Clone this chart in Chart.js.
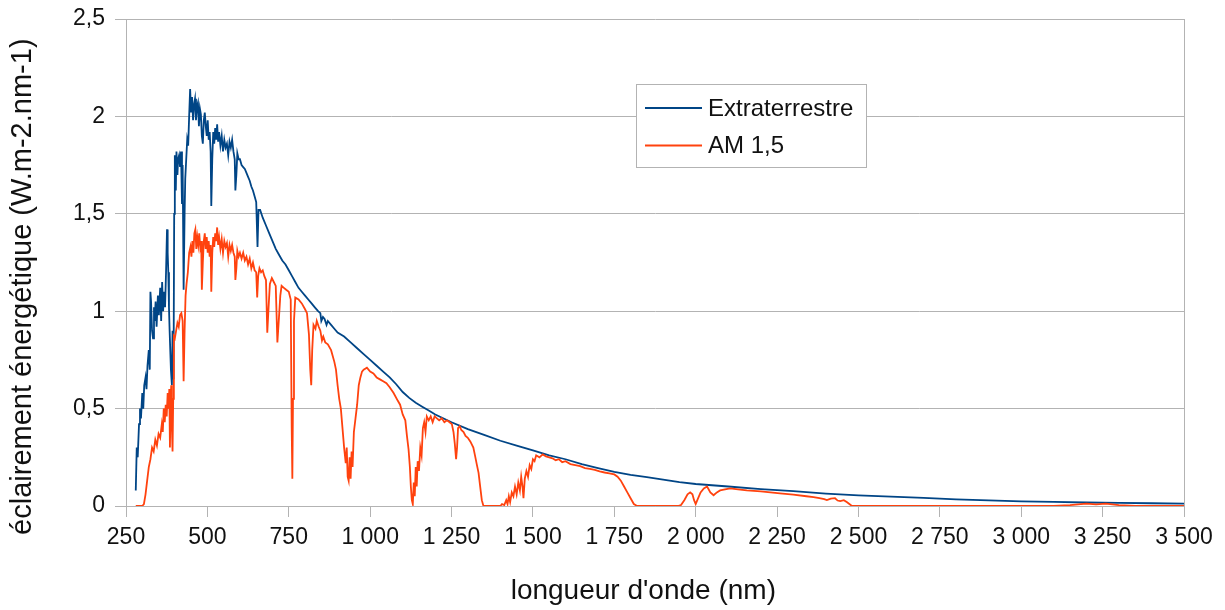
<!DOCTYPE html>
<html><head><meta charset="utf-8">
<script src="https://cdn.jsdelivr.net/npm/chart.js@4/dist/chart.umd.min.js"></script>
<style>html,body{margin:0;padding:0;background:#fff}#wrap{width:1225px;height:610px}</style>
</head><body><div id="wrap"><canvas id="c" width="1225" height="610"></canvas></div>
<script>
const seriesLabels = ['Extraterrestre', 'AM 1,5'];
const xTitle = "longueur d'onde (nm)";
const yTitle = 'éclairement énergétique (W.m-2.nm-1)';
const xRange = [250, 3500, 250];
const yRange = [0, 2.5, 0.5];

// [wavelength nm, irradiance]
const extraterrestre = [
[280,0.08],[283,0.30],[286,0.25],[290,0.42],[293,0.50],[296,0.45],[300,0.58],[303,0.50],[306,0.62],[310,0.66],
[313,0.60],[316,0.72],[320,0.80],[323,0.70],[325,1.10],[327,1.05],[330,0.90],[333,0.86],[336,1.02],[338,0.95],
[341,1.05],[344,0.92],[348,1.08],[351,0.98],[355,1.12],[358,0.95],[361,1.15],[364,1.00],[367,1.10],[370,1.02],
[373,1.20],[376,1.42],[378,1.30],[380,1.20],[382,1.02],[384,0.90],[388,0.70],[391,0.62],[393,0.90],[396,0.65],
[398,1.50],[400,1.80],[403,1.62],[405,1.82],[408,1.70],[410,1.78],[413,1.80],[416,1.74],[419,1.82],[422,1.55],
[424,1.75],[427,1.11],[430,1.50],[432,1.68],[435,1.78],[438,1.88],[441,1.85],[444,2.00],[447,2.14],[450,2.02],
[453,2.10],[456,1.98],[459,2.06],[462,2.09],[465,1.98],[468,2.05],[471,2.07],[474,1.95],[477,2.04],[480,2.01],
[483,1.90],[486,1.86],[489,1.98],[492,2.02],[495,1.95],[498,1.90],[501,1.98],[504,1.88],[507,1.92],[510,1.82],
[512,1.54],[515,1.78],[518,1.92],[521,1.86],[524,1.94],[527,1.88],[530,1.96],[533,1.87],[536,1.92],[540,1.85],
[544,1.90],[548,1.82],[552,1.88],[556,1.84],[560,1.86],[564,1.80],[568,1.87],[572,1.84],[576,1.88],[580,1.82],
[584,1.78],[586,1.62],[589,1.70],[592,1.81],[596,1.78],[600,1.78],[605,1.75],[610,1.74],[615,1.73],[620,1.71],
[625,1.69],[630,1.67],[635,1.64],[640,1.62],[645,1.59],[650,1.56],[654,1.33],[657,1.52],[662,1.52],[670,1.48],
[680,1.44],[690,1.40],[700,1.36],[710,1.32],[720,1.29],[730,1.26],[740,1.24],[750,1.21],[760,1.18],[770,1.15],
[780,1.12],[790,1.10],[800,1.08],[810,1.06],[820,1.04],[830,1.02],[840,1.00],[847,0.99],[850,0.95],[855,0.97],
[860,0.96],[866,0.93],[870,0.95],[880,0.93],[890,0.91],[900,0.89],[920,0.87],[940,0.84],[960,0.81],[980,0.78],
[1000,0.75],[1020,0.72],[1040,0.69],[1060,0.66],[1080,0.625],[1100,0.585],[1120,0.555],[1140,0.53],[1160,0.51],[1180,0.49],
[1200,0.47],[1250,0.43],[1300,0.395],[1350,0.365],[1400,0.335],[1450,0.31],[1500,0.285],[1550,0.26],[1600,0.24],[1650,0.215],
[1700,0.195],[1750,0.175],[1800,0.16],[1850,0.148],[1900,0.135],[1950,0.123],[2000,0.113],[2100,0.10],[2200,0.087],[2300,0.076],
[2400,0.064],[2500,0.055],[2600,0.048],[2700,0.042],[2750,0.038],[2800,0.034],[2900,0.029],[3000,0.024],[3100,0.021],[3200,0.018],
[3300,0.016],[3400,0.014],[3500,0.012]
];

const am15 = [
[280,0],[300,0],[305,0.01],[310,0.06],[315,0.13],[320,0.20],[325,0.24],[330,0.30],[335,0.28],[340,0.34],
[345,0.31],[350,0.37],[355,0.35],[360,0.42],[363,0.38],[366,0.50],[369,0.43],[372,0.52],[375,0.46],[378,0.58],
[381,0.50],[383,0.60],[385,0.30],[387,0.55],[389,0.62],[391,0.40],[393,0.28],[395,0.55],[397,0.87],[400,0.86],
[404,0.90],[408,0.94],[412,0.92],[416,0.98],[420,0.99],[424,0.95],[427,0.64],[430,0.90],[433,1.08],[436,1.14],
[440,1.20],[444,1.30],[448,1.33],[451,1.28],[454,1.36],[457,1.30],[460,1.40],[463,1.42],[466,1.32],[469,1.38],
[472,1.34],[475,1.40],[478,1.33],[481,1.36],[483,1.11],[486,1.25],[489,1.36],[492,1.40],[495,1.32],[498,1.38],
[501,1.30],[504,1.36],[507,1.28],[510,1.34],[512,1.10],[515,1.30],[518,1.38],[521,1.33],[524,1.40],[527,1.36],
[530,1.43],[533,1.34],[536,1.38],[540,1.32],[544,1.37],[548,1.30],[552,1.36],[556,1.33],[560,1.35],[564,1.28],
[568,1.34],[572,1.31],[576,1.34],[580,1.30],[584,1.28],[586,1.16],[589,1.22],[592,1.31],[596,1.28],[600,1.30],
[605,1.27],[610,1.30],[615,1.26],[620,1.28],[625,1.24],[630,1.27],[635,1.22],[640,1.25],[645,1.21],[650,1.20],
[653,1.07],[656,1.18],[660,1.22],[665,1.20],[670,1.21],[675,1.18],[680,1.16],[684,0.89],[688,1.02],[692,1.14],
[698,1.17],[704,1.15],[710,1.13],[715,0.84],[720,0.97],[724,1.08],[728,1.13],[735,1.12],[742,1.11],[750,1.10],
[756,1.06],[759,0.40],[761,0.14],[763,0.55],[766,0.95],[770,1.07],[780,1.06],[790,1.04],[800,1.01],[806,0.99],
[812,0.88],[816,0.70],[819,0.62],[822,0.80],[826,0.93],[832,0.91],[836,0.95],[842,0.92],[847,0.90],[852,0.85],
[856,0.87],[862,0.84],[870,0.83],[880,0.80],[890,0.74],[895,0.70],[900,0.62],[905,0.55],[910,0.50],[915,0.40],
[920,0.30],[925,0.22],[928,0.30],[931,0.15],[934,0.13],[937,0.25],[940,0.14],[943,0.28],[946,0.20],[950,0.38],
[955,0.45],[960,0.52],[965,0.62],[970,0.66],[975,0.69],[980,0.70],[990,0.71],[1000,0.69],[1010,0.68],[1020,0.66],
[1030,0.65],[1040,0.64],[1050,0.63],[1060,0.61],[1072,0.58],[1085,0.54],[1092,0.52],[1100,0.47],[1108,0.44],[1113,0.36],
[1118,0.29],[1122,0.20],[1125,0.10],[1128,0.03],[1131,0.01],[1134,0.12],[1137,0.05],[1140,0.20],[1143,0.10],[1146,0.23],
[1150,0.18],[1154,0.30],[1158,0.26],[1162,0.40],[1166,0.43],[1170,0.38],[1174,0.46],[1180,0.44],[1186,0.46],[1192,0.43],
[1198,0.46],[1205,0.45],[1212,0.44],[1220,0.45],[1228,0.43],[1236,0.44],[1244,0.43],[1251,0.42],[1256,0.38],[1260,0.32],
[1264,0.24],[1267,0.30],[1270,0.40],[1275,0.41],[1280,0.39],[1287,0.38],[1293,0.36],[1300,0.35],[1308,0.33],[1317,0.30],
[1322,0.26],[1328,0.21],[1333,0.17],[1338,0.10],[1343,0.03],[1348,0],[1400,0],[1405,0.01],[1412,0.005],[1418,0.03],
[1422,0.01],[1426,0.05],[1430,0.02],[1435,0.07],[1440,0.05],[1445,0.10],[1450,0.06],[1455,0.12],[1460,0.08],[1464,0.15],
[1468,0.10],[1471,0.04],[1475,0.14],[1480,0.18],[1485,0.15],[1490,0.21],[1495,0.19],[1500,0.24],[1505,0.23],[1510,0.26],
[1520,0.25],[1530,0.265],[1540,0.255],[1550,0.25],[1560,0.245],[1570,0.235],[1580,0.24],[1590,0.225],[1600,0.23],[1615,0.215],
[1630,0.21],[1645,0.205],[1660,0.195],[1675,0.19],[1690,0.185],[1705,0.178],[1720,0.172],[1735,0.168],[1750,0.162],[1760,0.15],
[1770,0.13],[1780,0.10],[1790,0.07],[1800,0.04],[1810,0.01],[1820,0],[1945,0],[1955,0.005],[1965,0.03],[1975,0.06],
[1983,0.07],[1990,0.06],[1995,0.03],[2000,0.01],[2005,0.03],[2015,0.07],[2025,0.09],[2035,0.10],[2045,0.07],[2055,0.055],
[2065,0.07],[2075,0.08],[2090,0.085],[2106,0.09],[2130,0.085],[2157,0.08],[2200,0.075],[2259,0.065],[2300,0.058],[2340,0.05],
[2362,0.046],[2380,0.04],[2395,0.035],[2403,0.03],[2415,0.038],[2428,0.04],[2436,0.028],[2444,0.025],[2455,0.03],[2464,0.02],
[2472,0.01],[2480,0],[3100,0],[3150,0.005],[3200,0.012],[3230,0.008],[3260,0.012],[3300,0.005],[3350,0],[3500,0]
];

const FONT = 'Liberation Sans, Arial, sans-serif';
const GRID = '#b3b3b3';
const TEXT = '#111111';

function toPoints(list) { return list.map(p => ({x: p[0], y: p[1]})); }

const legendBox = {
  id: 'legendBox',
  afterDraw(chart) {
    const ctx = chart.ctx;
    const bx = 636, by = 84, bw = 230, bh = 83;
    ctx.save();
    ctx.fillStyle = '#ffffff';
    ctx.fillRect(bx, by, bw, bh);
    ctx.strokeStyle = GRID;
    ctx.lineWidth = 1;
    ctx.strokeRect(bx + 0.5, by + 0.5, bw, bh);
    ctx.font = '24px ' + FONT;
    ctx.textBaseline = 'middle';
    ctx.textAlign = 'left';
    chart.data.datasets.forEach((ds, i) => {
      const ly = by + 24 + i * 37.5;
      ctx.strokeStyle = ds.borderColor;
      ctx.lineWidth = 2;
      ctx.beginPath();
      ctx.moveTo(bx + 9, ly);
      ctx.lineTo(bx + 66, ly);
      ctx.stroke();
      ctx.fillStyle = TEXT;
      ctx.fillText(ds.label, bx + 72, ly + 1);
    });
    ctx.restore();
  }
};

// Title texts are centred on the plot area; pad with no-break spaces to match the reference's offset centre
const NBSP = '\u00a0';

new Chart(document.getElementById('c'), {
  type: 'line',
  data: {
    datasets: [
      { label: seriesLabels[0], data: toPoints(extraterrestre), borderColor: '#004586', borderWidth: 1.8, pointRadius: 0, tension: 0, order: 1 },
      { label: seriesLabels[1], data: toPoints(am15), borderColor: '#ff420e', borderWidth: 1.8, pointRadius: 0, tension: 0, order: 0 }
    ]
  },
  options: {
    responsive: false,
    animation: false,
    devicePixelRatio: 1,
    layout: { padding: { left: 0, right: 41, top: 19, bottom: 0 } },
    plugins: { legend: { display: false }, tooltip: { enabled: false } },
    scales: {
      x: {
        type: 'linear',
        min: xRange[0], max: xRange[1],
        afterFit(s) { s.height = 104; },
        afterBuildTicks(s) {
          const t = [];
          for (let v = xRange[0]; v <= xRange[1]; v += xRange[2]) t.push({value: v});
          s.ticks = t;
        },
        ticks: {
          autoSkip: false, maxRotation: 0, padding: 7, color: TEXT,
          font: { family: FONT, size: 23 },
          callback: v => v >= 1000 ? Math.floor(v / 1000) + ' ' + String(v % 1000).padStart(3, '0') : String(v)
        },
        grid: {
          drawOnChartArea: true,
          color: c => (c.tick && c.tick.value === xRange[1]) ? GRID : 'rgba(0,0,0,0)',
          tickColor: GRID, tickLength: 11, lineWidth: 1
        },
        border: { display: true, color: GRID },
        title: { display: true, text: xTitle + NBSP.repeat(3), color: TEXT, font: { family: FONT, size: 28, lineHeight: 1 }, padding: { top: 0, bottom: 5 } }
      },
      y: {
        min: yRange[0], max: yRange[1],
        afterFit(s) { s.width = 126; },
        ticks: {
          stepSize: yRange[2], padding: 10, color: TEXT,
          font: { family: FONT, size: 23, lineHeight: 0.6 },
          callback: v => String(v).replace('.', ',')
        },
        grid: { color: GRID, tickColor: GRID, tickLength: 11, lineWidth: 1 },
        border: { display: true, color: GRID },
        title: { display: true, text: yTitle + NBSP.repeat(6), color: TEXT, font: { family: FONT, size: 29, lineHeight: 1 }, padding: { top: 8, bottom: 0 } }
      }
    }
  },
  plugins: [legendBox]
});
</script>
</body></html>
